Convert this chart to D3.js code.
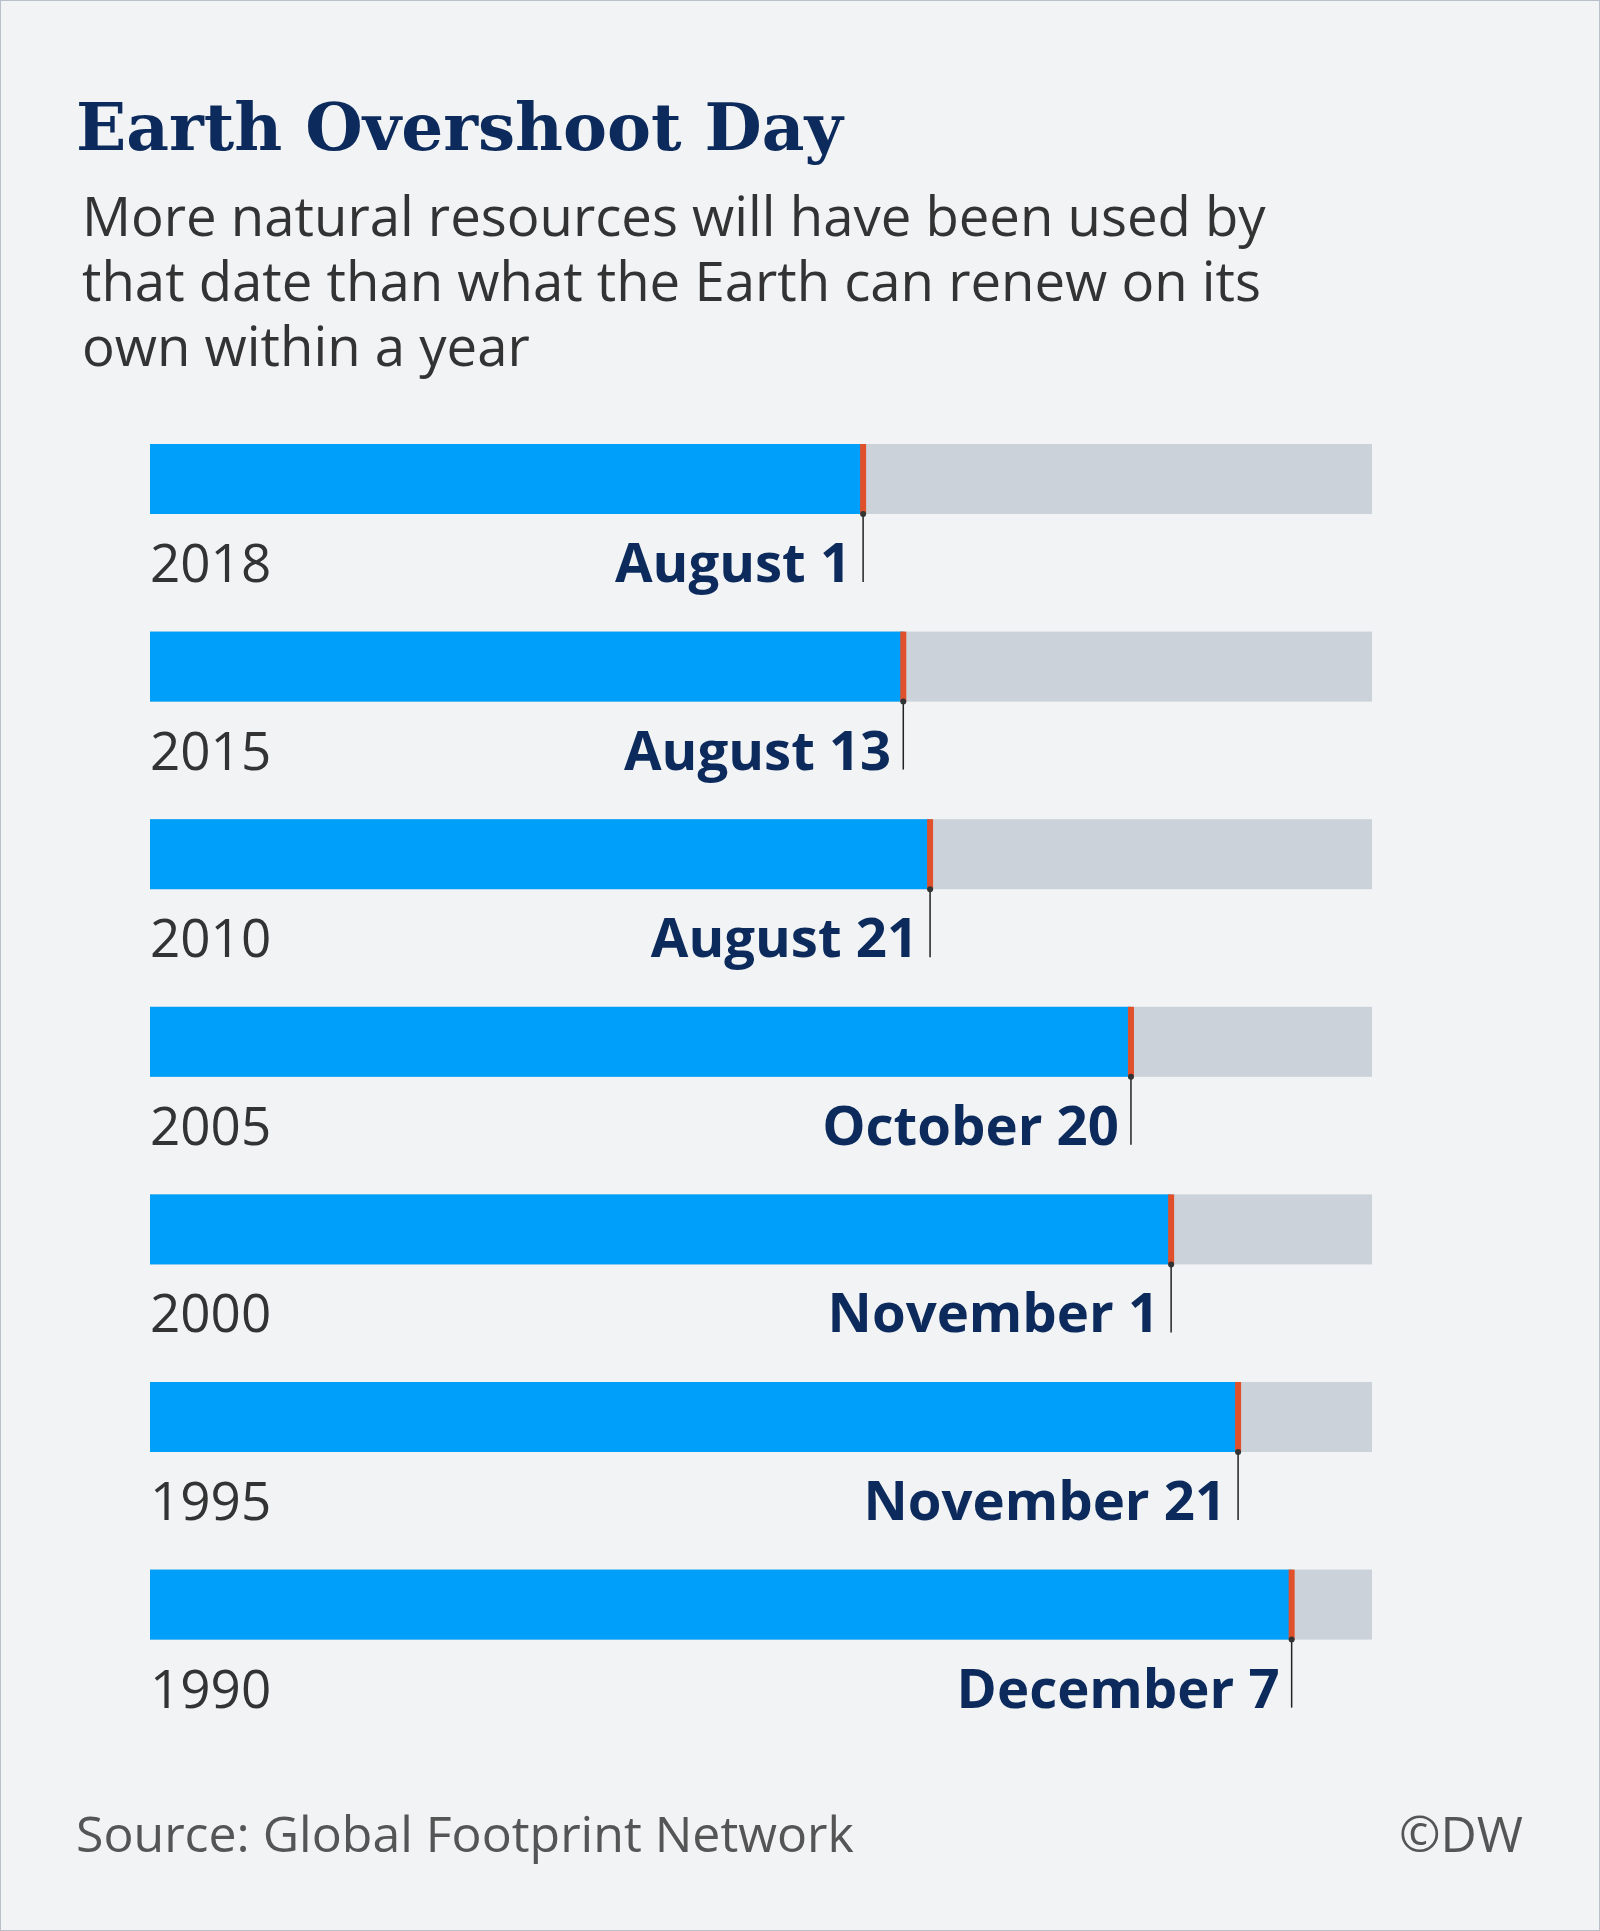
<!DOCTYPE html>
<html><head><meta charset="utf-8">
<script src="https://cdn.jsdelivr.net/npm/d3@7"></script>
<style>body{margin:0;background:#f1f3f5;}svg{display:block}</style>
</head><body>
<svg id="chart" width="1600" height="1931"></svg>
<script>
var YEARS = ["2018", "2015", "2010", "2005", "2000", "1995", "1990"];
var DATES = ["August 1", "August 13", "August 21", "October 20", "November 1", "November 21", "December 7"];
var DAYS = [213, 225, 233, 293, 305, 325, 341];

var svg = d3.select("#chart");
svg.append("rect").attr("x", 0.5).attr("y", 0.5).attr("width", 1599).attr("height", 1930)
  .attr("fill", "#f1f3f5").attr("stroke", "#b9c0c8");

svg.append("text").attr("x", 76).attr("y", 150)
  .style("font-family", "'DejaVu Serif', serif").style("font-size", "66px").style("font-weight", "bold")
  .attr("fill", "#0c2a5b").text("Earth Overshoot Day");

["More natural resources will have been used by",
 "that date than what the Earth can renew on its",
 "own within a year"].forEach(function(t, i) {
  svg.append("text").attr("x", 82).attr("y", 236 + i * 65)
    .style("font-family", "'Open Sans', sans-serif").style("font-size", "54.5px")
    .attr("fill", "#333").text(t);
});

var x = d3.scaleLinear().domain([0, 365]).range([150, 1372]);
var y = d3.scaleBand().domain(YEARS).range([444, 444 + 187.6 * 7]).paddingInner(0);
var BAR_H = 70;

var g = svg.selectAll("g.row").data(YEARS).enter().append("g").attr("class", "row")
  .attr("transform", function(d) { return "translate(0," + y(d) + ")"; });

g.append("rect").attr("x", x(0)).attr("width", x(365) - x(0)).attr("height", BAR_H).attr("fill", "#cbd2d9");
g.append("rect").attr("x", x(0)).attr("width", function(d, i) { return x(DAYS[i]) - x(0); })
  .attr("height", BAR_H).attr("fill", "#00a0fa");
g.append("rect").attr("x", function(d, i) { return x(DAYS[i]) - 3; }).attr("width", 6)
  .attr("height", BAR_H).attr("fill", "#e0502b");
g.append("line").attr("x1", function(d, i) { return x(DAYS[i]); }).attr("x2", function(d, i) { return x(DAYS[i]); })
  .attr("y1", BAR_H).attr("y2", BAR_H + 68).attr("stroke", "#222").attr("stroke-width", 1.5);
g.append("circle").attr("cx", function(d, i) { return x(DAYS[i]); }).attr("cy", BAR_H).attr("r", 3).attr("fill", "#333");

g.append("text").attr("x", x(0)).attr("y", BAR_H + 68)
  .style("font-family", "'Open Sans', sans-serif").style("font-size", "53px")
  .attr("fill", "#333").text(function(d) { return d; });
g.append("text").attr("x", function(d, i) { return x(DAYS[i]) - 12; }).attr("y", BAR_H + 68)
  .attr("text-anchor", "end")
  .style("font-family", "'Open Sans', sans-serif").style("font-size", "54.5px").style("font-weight", "bold")
  .attr("fill", "#0c2a5b").text(function(d, i) { return DATES[i]; });

svg.append("text").attr("x", 76).attr("y", 1852)
  .style("font-family", "'Open Sans', sans-serif").style("font-size", "50px")
  .attr("fill", "#555").text("Source: Global Footprint Network");
svg.append("text").attr("x", 1523).attr("y", 1852).attr("text-anchor", "end")
  .style("font-family", "'Open Sans', sans-serif").style("font-size", "50px")
  .attr("fill", "#555").text("©DW");
</script>
</body></html>
